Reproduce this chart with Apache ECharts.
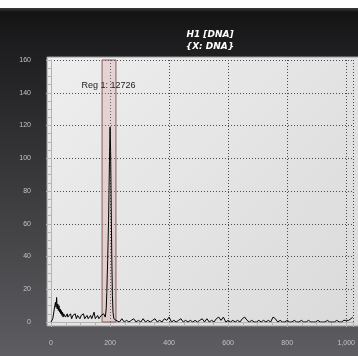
<!DOCTYPE html>
<html>
<head>
<meta charset="utf-8">
<script src="https://cdn.jsdelivr.net/npm/echarts@6/dist/echarts.min.js"></script>
<style>
  html, body { margin: 0; padding: 0; }
  #chart {
    width: 358px;
    height: 356px;
    background: linear-gradient(to bottom, #ffffff 0px, #ffffff 8px, #3c3c3c 8px, #141414 12px, #1d1d1f 45px, #5e5e62 100%);
  }
</style>
</head>
<body>
<div id="chart"></div>
<script>
// histogram: H1 [DNA]
const titleText = 'H1 [DNA]\n{X: DNA}'

const channels = [
  0, 2, 4, 6, 8, 10, 12, 13, 15, 17, 19, 21, 23, 25, 27, 29, 31, 33, 35, 37, 39, 41, 43, 45, 47, 49, 51, 53, 55, 57, 59,
  62, 66, 70, 74, 78, 82, 86, 90, 94, 98, 102, 106, 110, 114, 118, 122, 126, 130, 134, 138, 142, 146, 150, 154, 158, 162, 166, 170, 174, 178,
  181, 184, 187, 189, 192, 195, 198, 200, 202, 204, 206, 208, 210, 213, 216, 220,
  224, 232, 240, 248, 256, 264, 272, 280, 288, 296, 304, 312, 320, 328, 336, 344, 352, 360, 368, 376, 384, 392, 400, 408, 416, 424,
  432, 440, 448, 456, 464, 472, 480, 488, 496, 504, 512, 520, 528, 536, 544, 552, 560, 568, 576, 584, 592, 600, 608, 616, 624, 632,
  640, 648, 656, 664, 672, 680, 688, 696, 704, 712, 720, 728, 736, 744, 752, 760, 768, 776, 784, 792, 800, 808, 816, 824, 832, 840,
  848, 856, 864, 872, 880, 888, 896, 904, 912, 920, 928, 936, 944, 952, 960, 968, 976, 984, 992, 1000, 1008, 1016, 1022,
]
const counts = [
  0, 1, 0, 2, 1, 1, 2, 10, 12, 9, 15, 8, 11, 7, 10, 6, 8, 5, 7, 4, 6, 3, 5, 4, 6, 3, 4, 2, 5, 3, 4,
  3, 5, 2, 4, 3, 5, 2, 4, 3, 2, 4, 3, 5, 2, 3, 4, 2, 3, 4, 2, 3, 6, 2, 3, 4, 2, 3, 4, 3, 5,
  4, 3, 8, 18, 38, 62, 98, 119, 104, 70, 38, 16, 6, 2, 3, 1,
  1, 0, 2, 0, 1, 0, 1, 2, 0, 1, 0, 2, 0, 1, 0, 1, 2, 0, 1, 0, 2, 1, 3, 0, 1, 0,
  1, 2, 0, 1, 0, 1, 0, 1, 0, 1, 2, 0, 2, 0, 1, 0, 2, 3, 1, 3, 0, 1, 0, 1, 0, 1,
  0, 2, 3, 1, 0, 1, 0, 0, 1, 0, 1, 0, 1, 0, 3, 2, 0, 1, 0, 0, 1, 0, 0, 1, 0, 0,
  1, 0, 0, 1, 0, 0, 0, 1, 0, 0, 0, 1, 0, 0, 0, 1, 0, 0, 1, 1, 1, 2, 3,
]

const regionName = 'Reg 1'
const regionCount = 12726
const regionRange = [173, 220]

const chart = echarts.init(document.getElementById('chart'))

chart.setOption({
  animation: false,
  title: {
    text: titleText,
    left: 205,
    top: 24,
    textAlign: 'center',
    textStyle: {
      color: '#ffffff',
      fontFamily: 'DejaVu Sans',
      fontWeight: 'bold',
      fontStyle: 'italic',
      fontSize: 9,
      lineHeight: 11.5,
    },
  },
  graphic: [
    {
      type: 'rect',
      z: -10,
      shape: { x: 47, y: 57, width: 312, height: 269 },
      style: {
        fill: new echarts.graphic.LinearGradient(0, 0, 1, 1, [
          { offset: 0, color: '#eeeeee' },
          { offset: 1, color: '#dadada' },
        ]),
        stroke: '#9a9a9a',
        lineWidth: 1,
      },
    },
  ],
  grid: {
    left: 51,
    right: 0,
    top: 60,
    bottom: 34,
  },
  xAxis: {
    type: 'value',
    min: 0,
    max: 1024,
    interval: 200,
    offset: 9,
    axisLine: { show: true, lineStyle: { color: '#b4b4b4', width: 1 } },
    axisTick: { show: true, length: 5, lineStyle: { color: '#b4b4b4' } },
    minorTick: { show: true, splitNumber: 4, length: 3, lineStyle: { color: '#b4b4b4' } },
    axisLabel: {
      color: '#c4c4c4',
      fontSize: 7,
      fontFamily: 'Liberation Sans',
      margin: 9,
      showMaxLabel: false,
      formatter: (v) => v.toLocaleString('en-US'),
    },
    splitLine: { show: true, lineStyle: { color: '#4a4a4a', type: [1, 2], width: 1 } },
  },
  yAxis: {
    type: 'value',
    min: 0,
    max: 160,
    interval: 20,
    offset: 8,
    axisLine: { show: true, lineStyle: { color: '#b4b4b4', width: 1 } },
    axisTick: { show: true, length: 5, lineStyle: { color: '#b4b4b4' } },
    minorTick: { show: true, splitNumber: 4, length: 3, lineStyle: { color: '#b4b4b4' } },
    axisLabel: {
      color: '#c4c4c4',
      fontSize: 7,
      fontFamily: 'Liberation Sans',
      margin: 12,
    },
    splitLine: { show: true, lineStyle: { color: '#4a4a4a', type: [1, 2], width: 1 } },
  },
  series: [
    {
      type: 'line',
      data: channels.map((c, i) => [c, counts[i]]),
      showSymbol: false,
      lineStyle: { color: '#000000', width: 1 },
      clip: true,
      markArea: {
        silent: true,
        itemStyle: {
          color: 'rgba(210, 150, 150, 0.28)',
          borderColor: '#8c5c5c',
          borderWidth: 1,
        },
        label: {
          show: true,
          position: [-20, 22],
          color: '#222222',
          fontSize: 9,
          fontFamily: 'Liberation Sans',
          formatter: `${regionName}: ${regionCount}`,
        },
        data: [[{ xAxis: regionRange[0] }, { xAxis: regionRange[1] }]],
      },
    },
  ],
})
</script>
</body>
</html>
